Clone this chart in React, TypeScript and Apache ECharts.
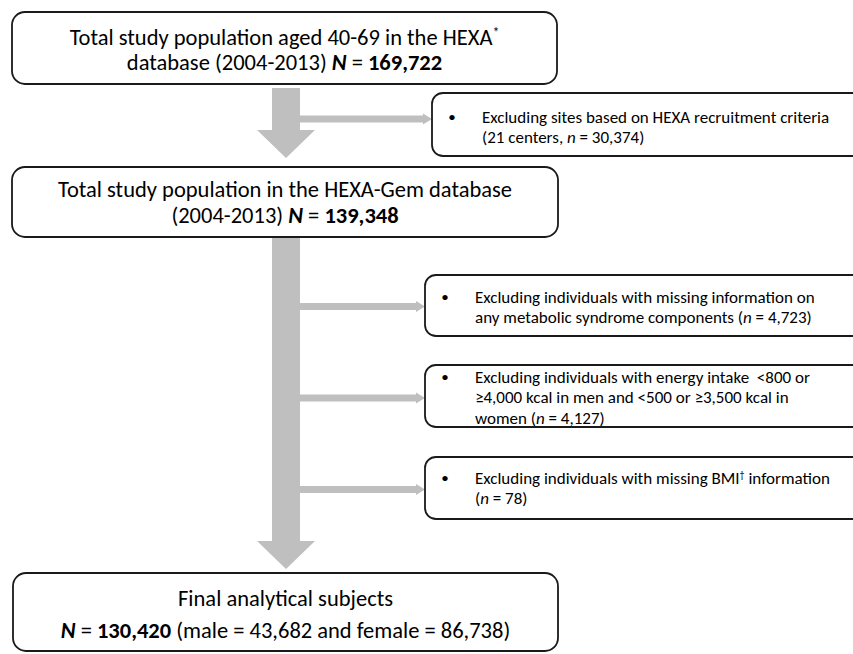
import React, { useEffect, useRef } from "react";
import * as echarts from "echarts";

// ---- data ----
const studyYears = "2004-2013";
const ageRange = "40-69";
const totalCounts = ["169,722", "139,348", "130,420"];
const maleCount = "43,682";
const femaleCount = "86,738";
const excludedCenters = "21";
const exclusionCounts = ["30,374", "4,723", "4,127", "78"];

const mainLines: string[][] = [
  [
    `Total study population aged ${ageRange} in the HEXA{sup|*}`,
    `database (${studyYears}) {ib|N} = {b|${totalCounts[0]}}`,
  ],
  [
    "Total study population in the HEXA-Gem database",
    `(${studyYears}) {ib|N} = {b|${totalCounts[1]}}`,
  ],
  [
    "Final analytical subjects",
    `{ib|N} = {b|${totalCounts[2]}} (male = ${maleCount} and female = ${femaleCount})`,
  ],
];

const exclusionLines: string[][] = [
  [
    "Excluding sites based on HEXA recruitment criteria",
    `(${excludedCenters} centers, {i|n} = ${exclusionCounts[0]})`,
  ],
  [
    "Excluding individuals with missing information on",
    `any metabolic syndrome components ({i|n} = ${exclusionCounts[1]})`,
  ],
  [
    "Excluding individuals with energy intake  <800 or",
    "≥4,000 kcal in men and <500 or ≥3,500 kcal in",
    `women ({i|n} = ${exclusionCounts[2]})`,
  ],
  [
    "Excluding individuals with missing BMI{sup|†} information",
    `({i|n} = ${exclusionCounts[3]})`,
  ],
];

// ---- layout ----
const FONT = "Carlito, Lato, sans-serif";
const MAIN_FS = 22.5;
const EXC_FS = 17;
const GRAY = "#bfbfbf";
const STROKE = "#1a1a1a";

const mainBoxes = [
  { x: 12, y: 12, w: 545, h: 72, lineY: [37, 62] },
  { x: 12, y: 167, w: 546, h: 70, lineY: [189, 215] },
  { x: 13, y: 573, w: 545, h: 78, lineY: [598, 630] },
];
const exBoxes = [
  { x: 432, y: 93, h: 63, lineY: 117, branchY: 119 },
  { x: 425, y: 275, h: 61, lineY: 297, branchY: 306.5 },
  { x: 425, y: 365, h: 62, lineY: 377, branchY: 398 },
  { x: 425, y: 457, h: 62, lineY: 478, branchY: 489.5 },
];
const EX_LINE_H = 20.5;

function richStyles(fs: number) {
  return {
    ib: { fontFamily: FONT, fontSize: fs, fontWeight: "bold", fontStyle: "italic", fill: "#000" },
    b: { fontFamily: FONT, fontSize: fs, fontWeight: "bold", fill: "#000" },
    i: { fontFamily: FONT, fontSize: fs, fontStyle: "italic", fill: "#000" },
    sup: { fontFamily: FONT, fontSize: Math.round(fs * 0.6), verticalAlign: "top", fill: "#000" },
  };
}

export default function App() {
  const ref = useRef<HTMLDivElement>(null);
  useEffect(() => {
    if (!ref.current) return;
    const chart = echarts.init(ref.current, null, { renderer: "svg" });
    const els: any[] = [];

    // main down arrows
    const shafts = [
      { top: 88, base: 130, tip: 158 },
      { top: 238, base: 541, tip: 569 },
    ];
    shafts.forEach((s) => {
      els.push({
        type: "polygon",
        shape: {
          points: [
            [272, s.top],
            [300, s.top],
            [300, s.base],
            [315, s.base],
            [286, s.tip],
            [257, s.base],
            [272, s.base],
          ],
        },
        style: { fill: GRAY },
      });
    });

    // branch arrows
    exBoxes.forEach((b) => {
      const c = b.branchY;
      els.push({
        type: "polygon",
        shape: {
          points: [
            [300, c - 3.5],
            [b.x - 9, c - 3.5],
            [b.x - 9, c - 5.5],
            [b.x, c],
            [b.x - 9, c + 5.5],
            [b.x - 9, c + 3.5],
            [300, c + 3.5],
          ],
        },
        style: { fill: GRAY },
      });
    });

    // main boxes
    mainBoxes.forEach((b, k) => {
      els.push({
        type: "rect",
        shape: { x: b.x, y: b.y, width: b.w, height: b.h, r: 13 },
        style: { fill: "#fff", stroke: STROKE, lineWidth: 1.8 },
      });
      mainLines[k].forEach((t, j) => {
        els.push({
          type: "text",
          x: b.x + b.w / 2,
          y: b.lineY[j],
          style: {
            text: t,
            fontFamily: FONT,
            fontSize: MAIN_FS,
            fill: "#000",
            align: "center",
            verticalAlign: "middle",
            rich: richStyles(MAIN_FS),
          },
        });
      });
    });

    // exclusion boxes
    exBoxes.forEach((b, k) => {
      els.push({
        type: "rect",
        shape: { x: b.x, y: b.y, width: 900 - b.x, height: b.h, r: 11 },
        style: { fill: "#fff", stroke: STROKE, lineWidth: 1.8 },
      });
      els.push({
        type: "text",
        x: b.x + 20,
        y: b.lineY,
        style: {
          text: "•",
          fontFamily: FONT,
          fontSize: EXC_FS - 2,
          fill: "#000",
          align: "center",
          verticalAlign: "middle",
        },
      });
      exclusionLines[k].forEach((t, j) => {
        els.push({
          type: "text",
          x: b.x + 50,
          y: b.lineY + j * EX_LINE_H,
          style: {
            text: t,
            fontFamily: FONT,
            fontSize: EXC_FS,
            fill: "#000",
            align: "left",
            verticalAlign: "middle",
            rich: richStyles(EXC_FS),
          },
        });
      });
    });

    chart.setOption({
      animation: false,
      backgroundColor: "#fff",
      graphic: { elements: els },
    });
    return () => chart.dispose();
  }, []);
  return (
    <div
      ref={ref}
      style={{ position: "absolute", left: 0, top: 0, width: 853, height: 654 }}
    />
  );
}
